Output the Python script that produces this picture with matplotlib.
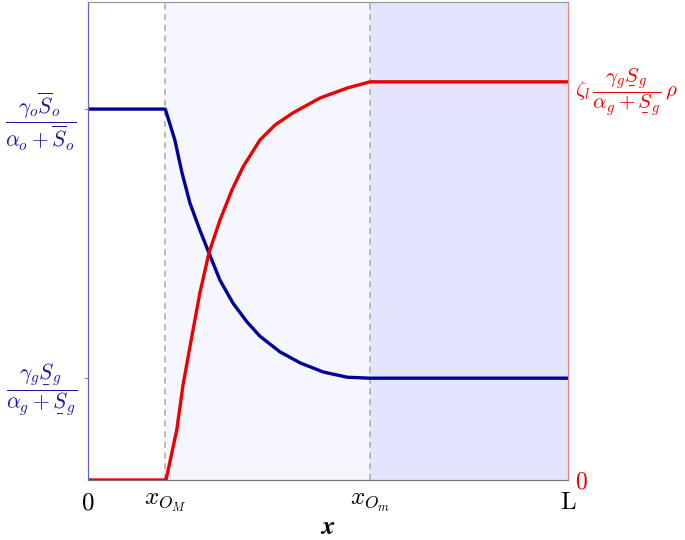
import numpy as np
import matplotlib.pyplot as plt

plt.rcParams['mathtext.fontset'] = 'cm'
plt.rcParams['font.family'] = 'serif'
plt.rcParams['font.serif'] = ['DejaVu Serif']

# positions along the domain (L = 1)
x_OM = 0.161
x_Om = 0.5875

# blue curve
xb = [0.0, 0.161, 0.181, 0.196, 0.2125, 0.233, 0.252, 0.275, 0.302, 0.331,
      0.358, 0.400, 0.442, 0.490, 0.540, 0.5875, 1.0]
yb = [0.776, 0.776, 0.711, 0.642, 0.579, 0.523, 0.475, 0.418, 0.370, 0.331,
      0.301, 0.268, 0.245, 0.226, 0.215, 0.213, 0.213]

# red curve
xr = [0.0, 0.1625, 0.185, 0.198, 0.215, 0.233, 0.252, 0.275, 0.300, 0.323,
      0.358, 0.390, 0.427, 0.483, 0.540, 0.5875, 1.0]
yr = [0.0, 0.0, 0.105, 0.199, 0.293, 0.391, 0.475, 0.544, 0.607, 0.655,
      0.711, 0.743, 0.768, 0.799, 0.820, 0.833, 0.833]

y_hi = 0.776
y_lo = 0.213
y_red_top = 0.833

blue = '#00009a'
red = '#ee0000'

fig = plt.figure(figsize=(6.85, 5.4), dpi=100)
ax = fig.add_axes([88/685, 1-480/540, 480/685, 478/540])

ax.axvspan(x_OM, x_Om, color='#f6f6fe', lw=0)
ax.axvspan(x_Om, 1.0, color='#e4e4fc', lw=0)
for xv in [x_OM, x_Om]:
    ax.axvline(xv, color='#a8a8a8', ls=(0, (4, 3)), lw=1.1)

ax.plot(xb, yb, color=blue, lw=2.4, solid_joinstyle='round')
ax.plot(xr, yr, color=red, lw=2.4, solid_joinstyle='round')

ax.set_xlim(0, 1)
ax.set_ylim(0, 1)

ax.set_xticks([0, x_OM, x_Om, 1.0])
ax.set_xticklabels([r'$0$', r'$x_{O_M}$', r'$x_{O_m}$', r'$\mathrm{L}$'], fontsize=18)
ax.tick_params(axis='x', length=0, pad=8)
ax.set_xlabel(r'$\boldsymbol{x}$', fontsize=19, labelpad=0)

ax.set_yticks([y_lo, y_hi])
ax.set_yticklabels([r'$\dfrac{\gamma_g\underset{\_}{S}_g}{\alpha_g+\underset{\_}{S}_g}$',
                    r'$\dfrac{\gamma_o\overline{S}_o}{\alpha_o+\overline{S}_o}$'],
                   fontsize=15.5, color='#1a1aa0')
ax.tick_params(axis='y', length=3, color='#888888', pad=5)

ax2 = ax.twinx()
ax2.set_ylim(0, 1)
ax2.set_yticks([0, y_red_top])
ax2.set_yticklabels([r'$0$', r'$\zeta_l\,\dfrac{\gamma_g\underset{\_}{S}_g}{\alpha_g+\underset{\_}{S}_g}\,\rho$'],
                    fontsize=15, color=red)
ax2.get_yticklabels()[0].set_fontsize(17)
ax2.tick_params(axis='y', length=0, pad=5)

for a in (ax, ax2):
    a.spines['top'].set_color('#999999')
    a.spines['bottom'].set_color('#777777')
    a.spines['left'].set_color('#6060d0')
    a.spines['right'].set_color('#f08080')

fig.savefig('out.png', dpi=100)
